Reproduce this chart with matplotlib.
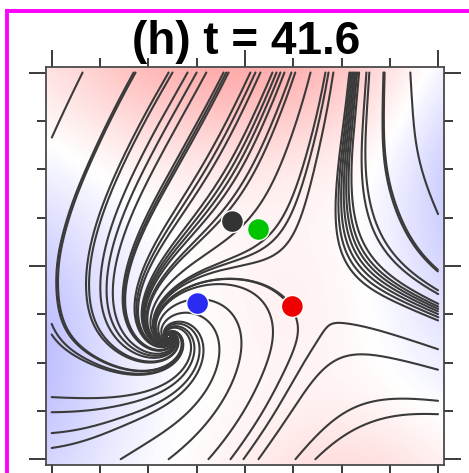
"""Phase portrait snapshot: streamlines of a sink/saddle flow over a shaded scalar field."""

import numpy as np
import matplotlib.pyplot as plt
from matplotlib.lines import Line2D

# --- flow model -------------------------------------------------------------
sink_xy = (-0.395, -0.366)
saddle_xy = (0.416, -0.243)
spiral_decay = 1.0
spiral_turn = 1.5
saddle_rates = (1.2, 1.0)          # unstable, stable
saddle_unstable_dir = (1.0, -0.35)
saddle_stable_dir = (0.145, 1.0)

# local flow directions: box edges plus a few interior points
guide_x = [-1.0, -0.4, 0.05, 0.56, 0.95, 1.0, 1.0, 1.0, 0.75, 0.05, -0.65, -1.0, -1.0, -1.0, -1.0,
           0.2, 0.75]
guide_y = [1.0, 1.0, 1.0, 1.0, 1.0, 0.35, -0.5, -0.8, -1.0, -1.0, -1.0, -0.65, -0.1, 0.15, 0.5,
           -0.65, -0.4]
guide_u = [-0.5, -0.65, -0.5, -0.06, 0.18, 0.4, 1.0, 1.0, 1.0, 0.6, 1.0, 1.0, 0.05, -0.4, -0.55,
           0.45, 1.0]
guide_v = [-1.0, -1.0, -1.0, -1.0, -1.0, -1.0, -0.55, -0.1, 0.6, 1.0, 0.9, 0.15, -1.0, -1.0, -1.0,
           1.0, -0.45]
guide_speed = 2.0
guide_soft = 0.05

# streamline seeds (where trajectories enter the box)
seed_top_x = [-0.84, -0.576, -0.566, -0.395, -0.375, -0.297, -0.25, -0.2,
              -0.111, -0.097, -0.085, 0.028, 0.054, 0.080, 0.142, 0.163, 0.183,
              0.204, 0.24, 0.26, 0.339, 0.416, 0.432, 0.457, 0.54, 0.548,
              0.556, 0.564, 0.572, 0.58, 0.59, 0.628, 0.643, 0.716, 0.722, 0.855]
seed_left_y = [-0.30, -0.355, -0.679, -0.757, -0.865, -0.942]
seed_bottom_x = [-0.643, -0.395, -0.189, -0.075, -0.008, 0.07, 0.261, 0.364]
seed_inner_x = [0.245]
seed_inner_y = [-0.21]

# tracked particles
marker_x = [-0.065, 0.07, -0.245, 0.245]
marker_y = [0.229, 0.188, -0.195, -0.21]
marker_colors = ["#333333", "#00c400", "#2a2af0", "#ee0000"]

# background scalar field as a few broad bumps
blob_x = [-0.05, 0.55, -1.2, 1.2, 0.25]
blob_y = [1.2, -1.2, -0.45, 0.45, -0.2]
blob_amp = [0.36, 0.15, -0.27, -0.24, 0.05]
blob_rx = [1.0, 0.65, 0.55, 0.45, 0.5]
blob_ry = [0.6, 0.45, 0.9, 0.95, 0.5]

title = "(h) t = 41.6"


def saddle_matrix():
    P = np.array([saddle_unstable_dir, saddle_stable_dir]).T
    D = np.diag([saddle_rates[0], -saddle_rates[1]])
    return P @ D @ np.linalg.inv(P)


A_SINK = np.array([[-spiral_decay, -spiral_turn], [spiral_turn, -spiral_decay]])
A_SADDLE = saddle_matrix()
G_NORM = np.hypot(guide_u, guide_v)
G_U = guide_speed * np.array(guide_u) / G_NORM
G_V = guide_speed * np.array(guide_v) / G_NORM


def velocity(x, y):
    # inverse-distance blend of the two linearised fixed points and the guides
    num_u, num_v, den = 0.0, 0.0, 0.0
    for (cx, cy), A, c in ((sink_xy, A_SINK, 2.5), (saddle_xy, A_SADDLE, 1.5)):
        dx, dy = x - cx, y - cy
        w = c / (dx * dx + dy * dy + 1e-12)
        num_u += w * (A[0, 0] * dx + A[0, 1] * dy)
        num_v += w * (A[1, 0] * dx + A[1, 1] * dy)
        den += w
    for gx, gy, gu, gv in zip(guide_x, guide_y, G_U, G_V):
        dx, dy = x - gx, y - gy
        w = 0.5 / (dx * dx + dy * dy + guide_soft)
        num_u += w * gu
        num_v += w * gv
        den += w
    return num_u / den, num_v / den


def trace(x0, y0, h=0.004, nmax=3000):
    def step_dir(x, y):
        u, v = velocity(x, y)
        s = np.hypot(u, v) + 1e-12
        return u / s, v / s

    xs, ys = [x0], [y0]
    x, y = x0, y0
    for _ in range(nmax):
        k1 = step_dir(x, y)
        k2 = step_dir(x + 0.5 * h * k1[0], y + 0.5 * h * k1[1])
        k3 = step_dir(x + 0.5 * h * k2[0], y + 0.5 * h * k2[1])
        k4 = step_dir(x + h * k3[0], y + h * k3[1])
        x += h / 6 * (k1[0] + 2 * k2[0] + 2 * k3[0] + k4[0])
        y += h / 6 * (k1[1] + 2 * k2[1] + 2 * k3[1] + k4[1])
        if abs(x) > 1.0 or abs(y) > 1.0:
            break
        xs.append(x)
        ys.append(y)
        if np.hypot(x - sink_xy[0], y - sink_xy[1]) < 0.01:
            break
    return np.array(xs), np.array(ys)


fig = plt.figure(figsize=(4.69, 4.73), dpi=100)
ax = fig.add_axes([45 / 469, 8 / 473, 400 / 469, 398.3 / 473])

lim = 1.03
gx, gy = np.meshgrid(np.linspace(-lim, lim, 300), np.linspace(-lim, lim, 300))
field = np.zeros_like(gx)
for bx, by, a, rx, ry in zip(blob_x, blob_y, blob_amp, blob_rx, blob_ry):
    field += a * np.exp(-((gx - bx) / rx) ** 2 - ((gy - by) / ry) ** 2)
ax.imshow(field, extent=[-lim, lim, -lim, lim], origin="lower", cmap="bwr",
          vmin=-1, vmax=1, interpolation="bilinear", zorder=0)

seeds = ([(x, 1.0) for x in seed_top_x] + [(-1.0, y) for y in seed_left_y]
         + [(x, -1.0) for x in seed_bottom_x] + list(zip(seed_inner_x, seed_inner_y)))
for sx, sy in seeds:
    xs, ys = trace(sx, sy)
    ax.plot(xs, ys, color="#3a3a3a", lw=1.5, solid_capstyle="round", zorder=2)

ax.scatter(marker_x, marker_y, s=250, c=marker_colors, edgecolors="white",
           linewidths=1.0, zorder=3)

ax.set_xlim(-lim, lim)
ax.set_ylim(-lim, lim)
ticks = [-1, 0, 1]
minor = [-0.75, -0.5, -0.25, 0.25, 0.5, 0.75]
ax.set_xticks(ticks)
ax.set_yticks(ticks)
ax.set_xticks(minor, minor=True)
ax.set_yticks(minor, minor=True)
ax.tick_params(which="both", direction="out", top=True, right=True,
               labelbottom=False, labelleft=False, color="#3a3a3a", width=1.4)
ax.tick_params(which="major", length=12.5)
ax.tick_params(which="minor", length=6.5)
for sp in ax.spines.values():
    sp.set_color("#4a4a4a")
    sp.set_linewidth(1.3)

fig.text(246 / 469, 1 - 54 / 473, title, ha="center", va="baseline",
         fontsize=33, fontweight="bold", family="Liberation Sans")

# magenta frame around the panel
fig.add_artist(Line2D([7 / 469, 7 / 469], [0, 1 - 11 / 473], transform=fig.transFigure,
                      color="#ff00ff", lw=2.8))
fig.add_artist(Line2D([7 / 469, 1], [1 - 11 / 473, 1 - 11 / 473], transform=fig.transFigure,
                      color="#ff00ff", lw=2.8))

fig.savefig("out.png", dpi=100)
